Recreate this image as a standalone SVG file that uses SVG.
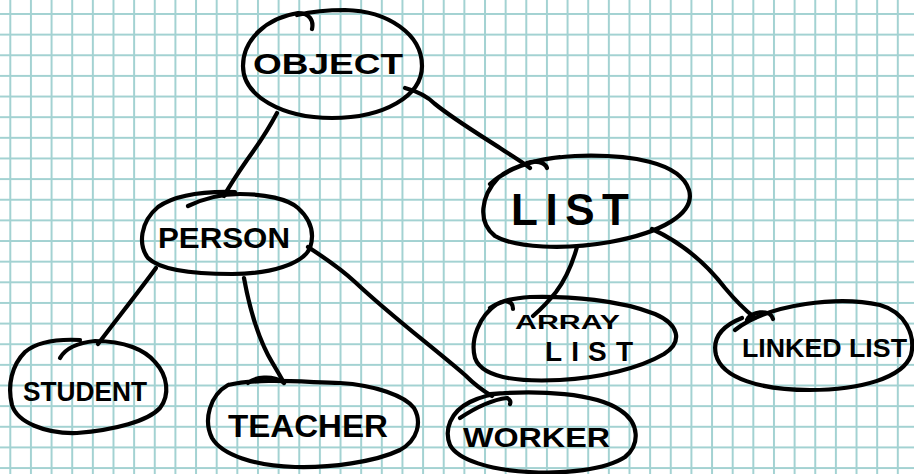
<svg xmlns="http://www.w3.org/2000/svg" width="914" height="474" viewBox="0 0 914 474">
<defs>
<pattern id="grid" patternUnits="userSpaceOnUse" x="9.3" y="13" width="20.64" height="20.64">
<path d="M1,0 V20.64 M0,1 H20.64" stroke="#a3d2d2" stroke-width="2" fill="none"/>
</pattern>
<style>
.ink{fill:none;stroke:#000;stroke-width:4.2;stroke-linecap:round;stroke-linejoin:round}
.lbl{font-family:"Liberation Sans",Arial,sans-serif;font-weight:bold;fill:#000}
</style>
</defs>
<rect width="914" height="474" fill="#fff"/>
<rect width="914" height="474" fill="url(#grid)"/>
<g id="connectors" class="ink">
<path d="M277,113 C268,130 258,145 247,160 C238,173 230,185 224,196"/>
<path d="M405,88 C420,92 428,97 435,104 C455,120 480,135 500,148 C512,156 522,162 530,168"/>
<path d="M527,163 C535,160 545,162 547,168"/>
<path d="M156,268 C140,290 120,315 98,344"/>
<path d="M244,278 C248,300 255,330 268,355 C274,366 280,375 284,383"/>
<path d="M308,247 C325,258 340,268 355,282 C390,315 430,345 465,375 C475,385 485,392 492,396"/>
<path d="M577,247 C572,265 565,280 556,292 C548,302 540,310 533,316"/>
<path d="M652,229 C680,242 705,262 725,288 C735,300 745,310 755,318"/>
</g>
<g id="node-object">
<path class="ink" d="M312,29 C314,20 309,13 298,13 C266,18 243,40 243,66 C243,96 282,118 332,118 C384,118 422,96 422,66 C422,34 388,11 345,10 C325,10 310,12 297,15"/>
<text class="lbl" x="253" y="74" font-size="30" textLength="150" lengthAdjust="spacingAndGlyphs">OBJECT</text>
</g>
<g id="node-person">
<path class="ink" d="M188,206 C205,198 220,194 240,194 C265,194 288,199 298,208 C310,219 315,233 310,248 C303,264 270,274 232,274 C195,274 160,270 148,258 C138,245 140,222 158,207 C175,195 200,191 235,192"/>
<text class="lbl" x="158" y="248" font-size="30" textLength="132" lengthAdjust="spacingAndGlyphs">PERSON</text>
</g>
<g id="node-list">
<path class="ink" d="M490,184 C508,168 535,158 575,156 C630,154 680,162 689,190 C696,214 660,233 610,242 C565,250 515,248 495,236 C477,222 481,196 498,178 C512,166 535,160 560,157"/>
<text class="lbl" x="511" y="225" font-size="44" textLength="118" lengthAdjust="spacing">LIST</text>
</g>
<g id="node-student">
<path class="ink" d="M60,358 C65,349 76,343 95,341 C125,341 145,350 155,362 C168,376 170,395 160,408 C148,421 115,430 77,433 C45,434 17,422 12,405 C7,385 12,365 25,352 C38,341 60,339 80,340"/>
<text class="lbl" x="23" y="401" font-size="27" textLength="124" lengthAdjust="spacingAndGlyphs">STUDENT</text>
</g>
<g id="node-teacher">
<path class="ink" d="M248,383 C255,377 272,375 283,382"/>
<path class="ink" d="M228,385 C260,378 300,382 340,383 C375,385 405,396 414,408 C422,422 418,440 400,450 C375,462 330,468 295,467 C255,466 222,455 212,438 C203,420 210,395 228,385"/>
<text class="lbl" x="228" y="437" font-size="32" textLength="160" lengthAdjust="spacingAndGlyphs">TEACHER</text>
</g>
<g id="node-worker">
<path class="ink" d="M460,418 C475,408 490,400 507,398 C510,399 511,402 510,404"/>
<path class="ink" d="M490,394 C540,390 595,393 620,410 C640,423 640,445 625,457 C605,470 565,474 530,472 C490,470 458,460 450,445 C444,430 450,412 470,402 C480,397 490,394 505,393"/>
<text class="lbl" x="463" y="447" font-size="27" textLength="147" lengthAdjust="spacingAndGlyphs">WORKER</text>
</g>
<g id="node-arraylist">
<path class="ink" d="M513,309 C513,301 505,299 497,304 C479,316 470,340 475,358 C482,378 520,382 560,380 C600,378 640,368 664,354 C684,341 678,324 655,314 C620,300 570,296 530,297 C515,298 502,300 490,308"/>
<text class="lbl" x="515" y="329" font-size="21" textLength="105" lengthAdjust="spacingAndGlyphs">ARRAY</text>
<text class="lbl" x="545" y="361" font-size="28" textLength="88" lengthAdjust="spacing">LIST</text>
</g>
<g id="node-linkedlist">
<path class="ink" d="M747,320 C750,312 770,308 773,319"/>
<path class="ink" d="M735,330 C770,303 840,296 880,305 C905,312 916,335 911,355 C903,378 860,390 810,390 C760,390 722,378 716,355 C712,338 722,326 742,318"/>
<text class="lbl" x="742" y="357" font-size="26" textLength="165" lengthAdjust="spacingAndGlyphs">LINKED LIST</text>
</g>
</svg>
